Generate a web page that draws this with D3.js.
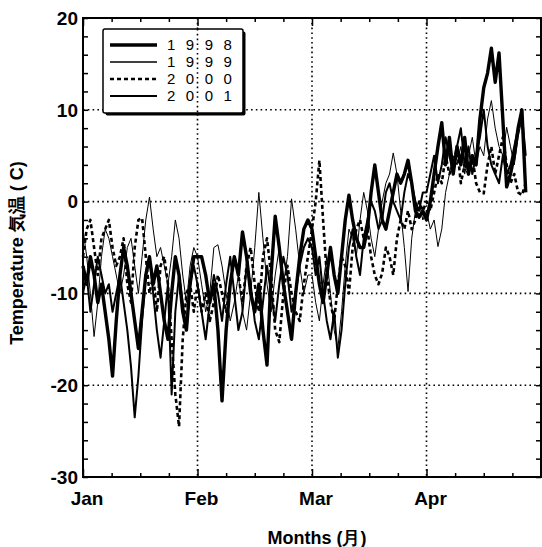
<!DOCTYPE html>
<html>
<head>
<meta charset="utf-8">
<script src="https://cdn.jsdelivr.net/npm/d3@7"></script>
<style>
  body { margin: 0; background: #fff; }
  text { font-family: "Liberation Sans Narrow", "Arial Narrow", "Liberation Sans", sans-serif; font-weight: bold; fill: #000; }
</style>
</head>
<body>
<script>
// daily temperature, Jan 1 .. Apr 27 (rows: Jan / Feb / Mar / Apr)
let t1998 = [
  -7, -9, -6, -8, -11, -9, -12, -15, -19, -13, -8, -5, -7, -10, -13, -16, -12, -8, -6, -9, -7, -10, -13, -15, -10, -6, -8, -12, -14, -9, -6,
  -6, -6, -8, -11, -9, -14, -21.7, -14, -9, -6, -8, -3.3, -6, -10, -12, -9, -14, -17.8, -8, -1.6, -5, -9, -12, -15, -10, -6, -3, -2,
  -3, -6, -9, -11, -8, -5, -8, -10, -6, -2, 0.7, -2, -4, -5, -5, -3, 1, 4, 1, -2, -3, -1, 1, 3, 2, 3, 4.5, 2, -1, -1.7, -1,
  -2, 0, 3, 6, 8.6, 4, 7, 3, 6, 4, 7, 3, 5, 4, 9, 12.4, 14, 16.7, 13, 16.2, 9, 1.6, 3, 5, 8, 10, 1
];
let t1999 = [
  -3, -6, -10, -14.7, -11, -6, -3, -4, -6, -8, -10, -8, -5, -4, -7, -10, -6, -2, 0.5, -3, -6, -5, -7, -9, -6, -2, -4, -8, -11, -7, -5,
  -6, -9, -12, -10, -5, -4.7, -7, -10, -13, -11, -8, -12, -14, -10, -5, 1, -4, -9, -12, -8, -5, -9, -6, 0.3, -3, -7, -10, -8,
  -8, -11, -13, -9, -6, -10, -14, -16, -12, -7, -3, -4, -6, -2, 1, -1, -4, -6, -3, 0, 2, 3, 5.3, 3, -1, -5, -9.8, -4, -1, 0, -2,
  -1, -3, -2, -4.9, -3, 1, 3, 5, 4, 6, 3, 5, 7, 4, 6, 5, 9, 11, 8, 6, 5, 8.1, 6, 4, 7, 9, 5
];
let t2000 = [
  -6, -3, -2, -5, -8, -4, -3, -2, -5, -7, -6, -4, -9, -11, -5, -2, -1.8, -6, -10, -8, -12, -7, -6, -9, -15, -21, -24.5, -15, -10, -9, -12,
  -9, -12, -10, -13, -11, -8, -10, -12, -9, -6, -8, -11, -7, -5, -9, -12, -6, -4, -8, -14, -15.3, -10, -7, -10, -12, -13, -9, -6,
  -3, 0, 4.5, -2, -8, -11, -13, -9, -6, -7, -10, -5, -3, -2, -4, -3, -6, -8, -9, -7.8, -5, -6, -8, -4, -2, -3, -1, -3, -2, 0, -1,
  0, -1, 1, 3, 2, 5, 3, 4, 6, 2, 4, 3, 5, 2, 1, 0.9, 4, 6, 3, 5, 7, 4, 2, 3, 1, 0.7, 2
];
let t2001 = [
  -10, -8, -12, -9, -6, -8, -10, -9, -12, -10, -8, -11, -14, -18, -23.5, -19, -13, -8, -6, -10, -14, -17, -13, -9, -21, -12, -8, -11, -14, -9, -7,
  -9, -12, -15, -11, -8, -10, -13, -9, -6, -10, -14, -12, -7, -9, -13, -15, -11, -7, -10, -13, -9, -6, -8, -12, -10, -7, -5, -4,
  -5, -8, -6, -10, -13, -15, -12, -17, -14, -9, -5, -3, -6, -8, -4, -2, 0, -1, -3, -2, 1, 2, 0, -1, -2, 1, 3, 2, 0, -1, 1,
  1, 3, 5, 2, 4, 7, 5, 3, 6, 8, 4, 6, 3, 5, 7, 10, 6, 4, 3, 2, 5, 3, 4, 6, 8, 9.5, 5
];

let years = ["1998", "1999", "2000", "2001"];
let monthNames = ["Jan", "Feb", "Mar", "Apr"];
let monthStart = [0, 31, 59, 90, 120]; // day index of Jan 1, Feb 1, Mar 1, Apr 1, May 1
let yTicks = [-30, -20, -10, 0, 10, 20];

let margin = {top: 18, right: 1, bottom: 70, left: 83},
    width = 542 - margin.left - margin.right,
    height = 547 - margin.top - margin.bottom;

let svg = d3.select("body")
    .append("svg")
        .attr("width", 542)
        .attr("height", 547)
    .append("g")
        .attr("transform", "translate(" + margin.left + "," + margin.top + ")");

// months are drawn with equal widths, so the day scale is piecewise
let x = d3.scaleLinear()
    .domain(monthStart)
    .range(monthStart.map(function(d, i) { return i * width / 4; }));

let y = d3.scaleLinear()
    .domain([-30, 20])
    .range([height, 0]);

// dotted grid
svg.selectAll(".hgrid")
    .data(yTicks.slice(1, -1))
    .enter().append("line")
        .attr("x1", 0).attr("x2", width)
        .attr("y1", function(d) { return y(d); })
        .attr("y2", function(d) { return y(d); })
        .style("stroke", "#000").style("stroke-width", 1.6)
        .style("stroke-dasharray", "1.6,3.2");
svg.selectAll(".vgrid")
    .data(monthStart.slice(1, 4))
    .enter().append("line")
        .attr("y1", 0).attr("y2", height)
        .attr("x1", function(d) { return x(d); })
        .attr("x2", function(d) { return x(d); })
        .style("stroke", "#000").style("stroke-width", 1.6)
        .style("stroke-dasharray", "1.6,3.2");

// series
let series = [
    {name: "2000", values: t2000, w: 2.6, dash: "4,3"},
    {name: "1999", values: t1999, w: 1, dash: null},
    {name: "2001", values: t2001, w: 2, dash: null},
    {name: "1998", values: t1998, w: 3.4, dash: null}
];
let line = d3.line()
    .x(function(d, i) { return x(i); })
    .y(function(d) { return y(d); });

svg.selectAll(".series")
    .data(series)
    .enter().append("path")
        .attr("d", function(d) { return line(d.values); })
        .style("fill", "none")
        .style("stroke", "#000")
        .style("stroke-width", function(d) { return d.w; })
        .style("stroke-linejoin", "round")
        .style("stroke-dasharray", function(d) { return d.dash; });

// frame with inward ticks
svg.append("rect")
    .attr("width", width).attr("height", height)
    .style("fill", "none").style("stroke", "#000").style("stroke-width", 2);

let xMinor = [];
for (let m = 0; m < 4; m++) {
    for (let k = 1; k < 4; k++) {
        xMinor.push(monthStart[m] + k * (monthStart[m + 1] - monthStart[m]) / 4);
    }
}
svg.append("g")
    .attr("transform", "translate(0," + height + ")")
    .call(d3.axisBottom(x).tickValues(xMinor).tickSize(-4).tickFormat(""))
    .call(function(g) { g.select(".domain").remove(); });
svg.append("g")
    .call(d3.axisTop(x).tickValues(xMinor).tickSize(-4).tickFormat(""))
    .call(function(g) { g.select(".domain").remove(); });
svg.append("g")
    .attr("transform", "translate(0," + height + ")")
    .call(d3.axisBottom(x).tickValues(monthStart.slice(0, 4)).tickSize(-8).tickFormat(""))
    .call(function(g) { g.select(".domain").remove(); });
svg.append("g")
    .call(d3.axisTop(x).tickValues(monthStart.slice(0, 4)).tickSize(-8).tickFormat(""))
    .call(function(g) { g.select(".domain").remove(); });

let yMinor = d3.range(-30, 21, 2);
svg.append("g")
    .call(d3.axisLeft(y).tickValues(yMinor).tickSize(-5).tickFormat(""))
    .call(function(g) { g.select(".domain").remove(); });
svg.append("g")
    .attr("transform", "translate(" + width + ",0)")
    .call(d3.axisRight(y).tickValues(yMinor).tickSize(-5).tickFormat(""))
    .call(function(g) { g.select(".domain").remove(); });
svg.selectAll(".tick line").style("stroke-width", 1.5);

// tick labels
svg.selectAll(".ylab")
    .data(yTicks)
    .enter().append("text")
        .attr("x", -5)
        .attr("y", function(d) { return y(d); })
        .attr("dy", "0.36em")
        .attr("text-anchor", "end")
        .style("font-size", "19px")
        .text(function(d) { return d; });
svg.selectAll(".xlab")
    .data(monthNames)
    .enter().append("text")
        .attr("x", function(d, i) { return x(monthStart[i]) + 4; })
        .attr("y", height + 28)
        .attr("text-anchor", "middle")
        .style("font-size", "19px")
        .text(function(d) { return d; });

// axis titles
svg.append("text")
    .attr("x", 234)
    .attr("y", height + 67)
    .attr("text-anchor", "middle")
    .style("font-size", "18px")
    .text("Months (月)");
svg.append("text")
    .attr("transform", "translate(-60," + 235 + ") rotate(-90)")
    .attr("text-anchor", "middle")
    .style("font-size", "18px")
    .text("Temperature 気温 ( C)");

// legend
let legend = svg.append("g").attr("transform", "translate(20,11)");
legend.append("rect")
    .attr("x", 2.5).attr("y", 2.5).attr("width", 140).attr("height", 84)
    .attr("rx", 2)
    .style("fill", "#000");
legend.append("rect")
    .attr("width", 140).attr("height", 84)
    .attr("rx", 2)
    .style("fill", "#fff").style("stroke", "#000").style("stroke-width", 1.5);
let legendStyle = {};
series.forEach(function(s) { legendStyle[s.name] = s; });
let rows = legend.selectAll(".row")
    .data(years)
    .enter().append("g")
        .attr("transform", function(d, i) { return "translate(0," + (16 + i * 17) + ")"; });
rows.append("line")
    .attr("x1", 7).attr("x2", 54)
    .style("stroke", "#000")
    .style("stroke-width", function(d) { return Math.max(legendStyle[d].w, 1.6); })
    .style("stroke-dasharray", function(d) { return legendStyle[d].dash; });
rows.append("text")
    .attr("x", 64)
    .attr("dy", "0.36em")
    .style("font-family", "'Liberation Sans', Arial, sans-serif")
    .style("font-weight", "normal")
    .style("font-size", "15px")
    .style("letter-spacing", "10.5px")
    .text(function(d) { return d; });

// gridlines pass through the legend box
svg.selectAll(".vgrid2")
    .data([monthStart[1]])
    .enter().append("line")
        .attr("y1", 11).attr("y2", 98)
        .attr("x1", function(d) { return x(d); })
        .attr("x2", function(d) { return x(d); })
        .style("stroke", "#000").style("stroke-width", 1.6)
        .style("stroke-dasharray", "1.6,3.2");
</script>
</body>
</html>
